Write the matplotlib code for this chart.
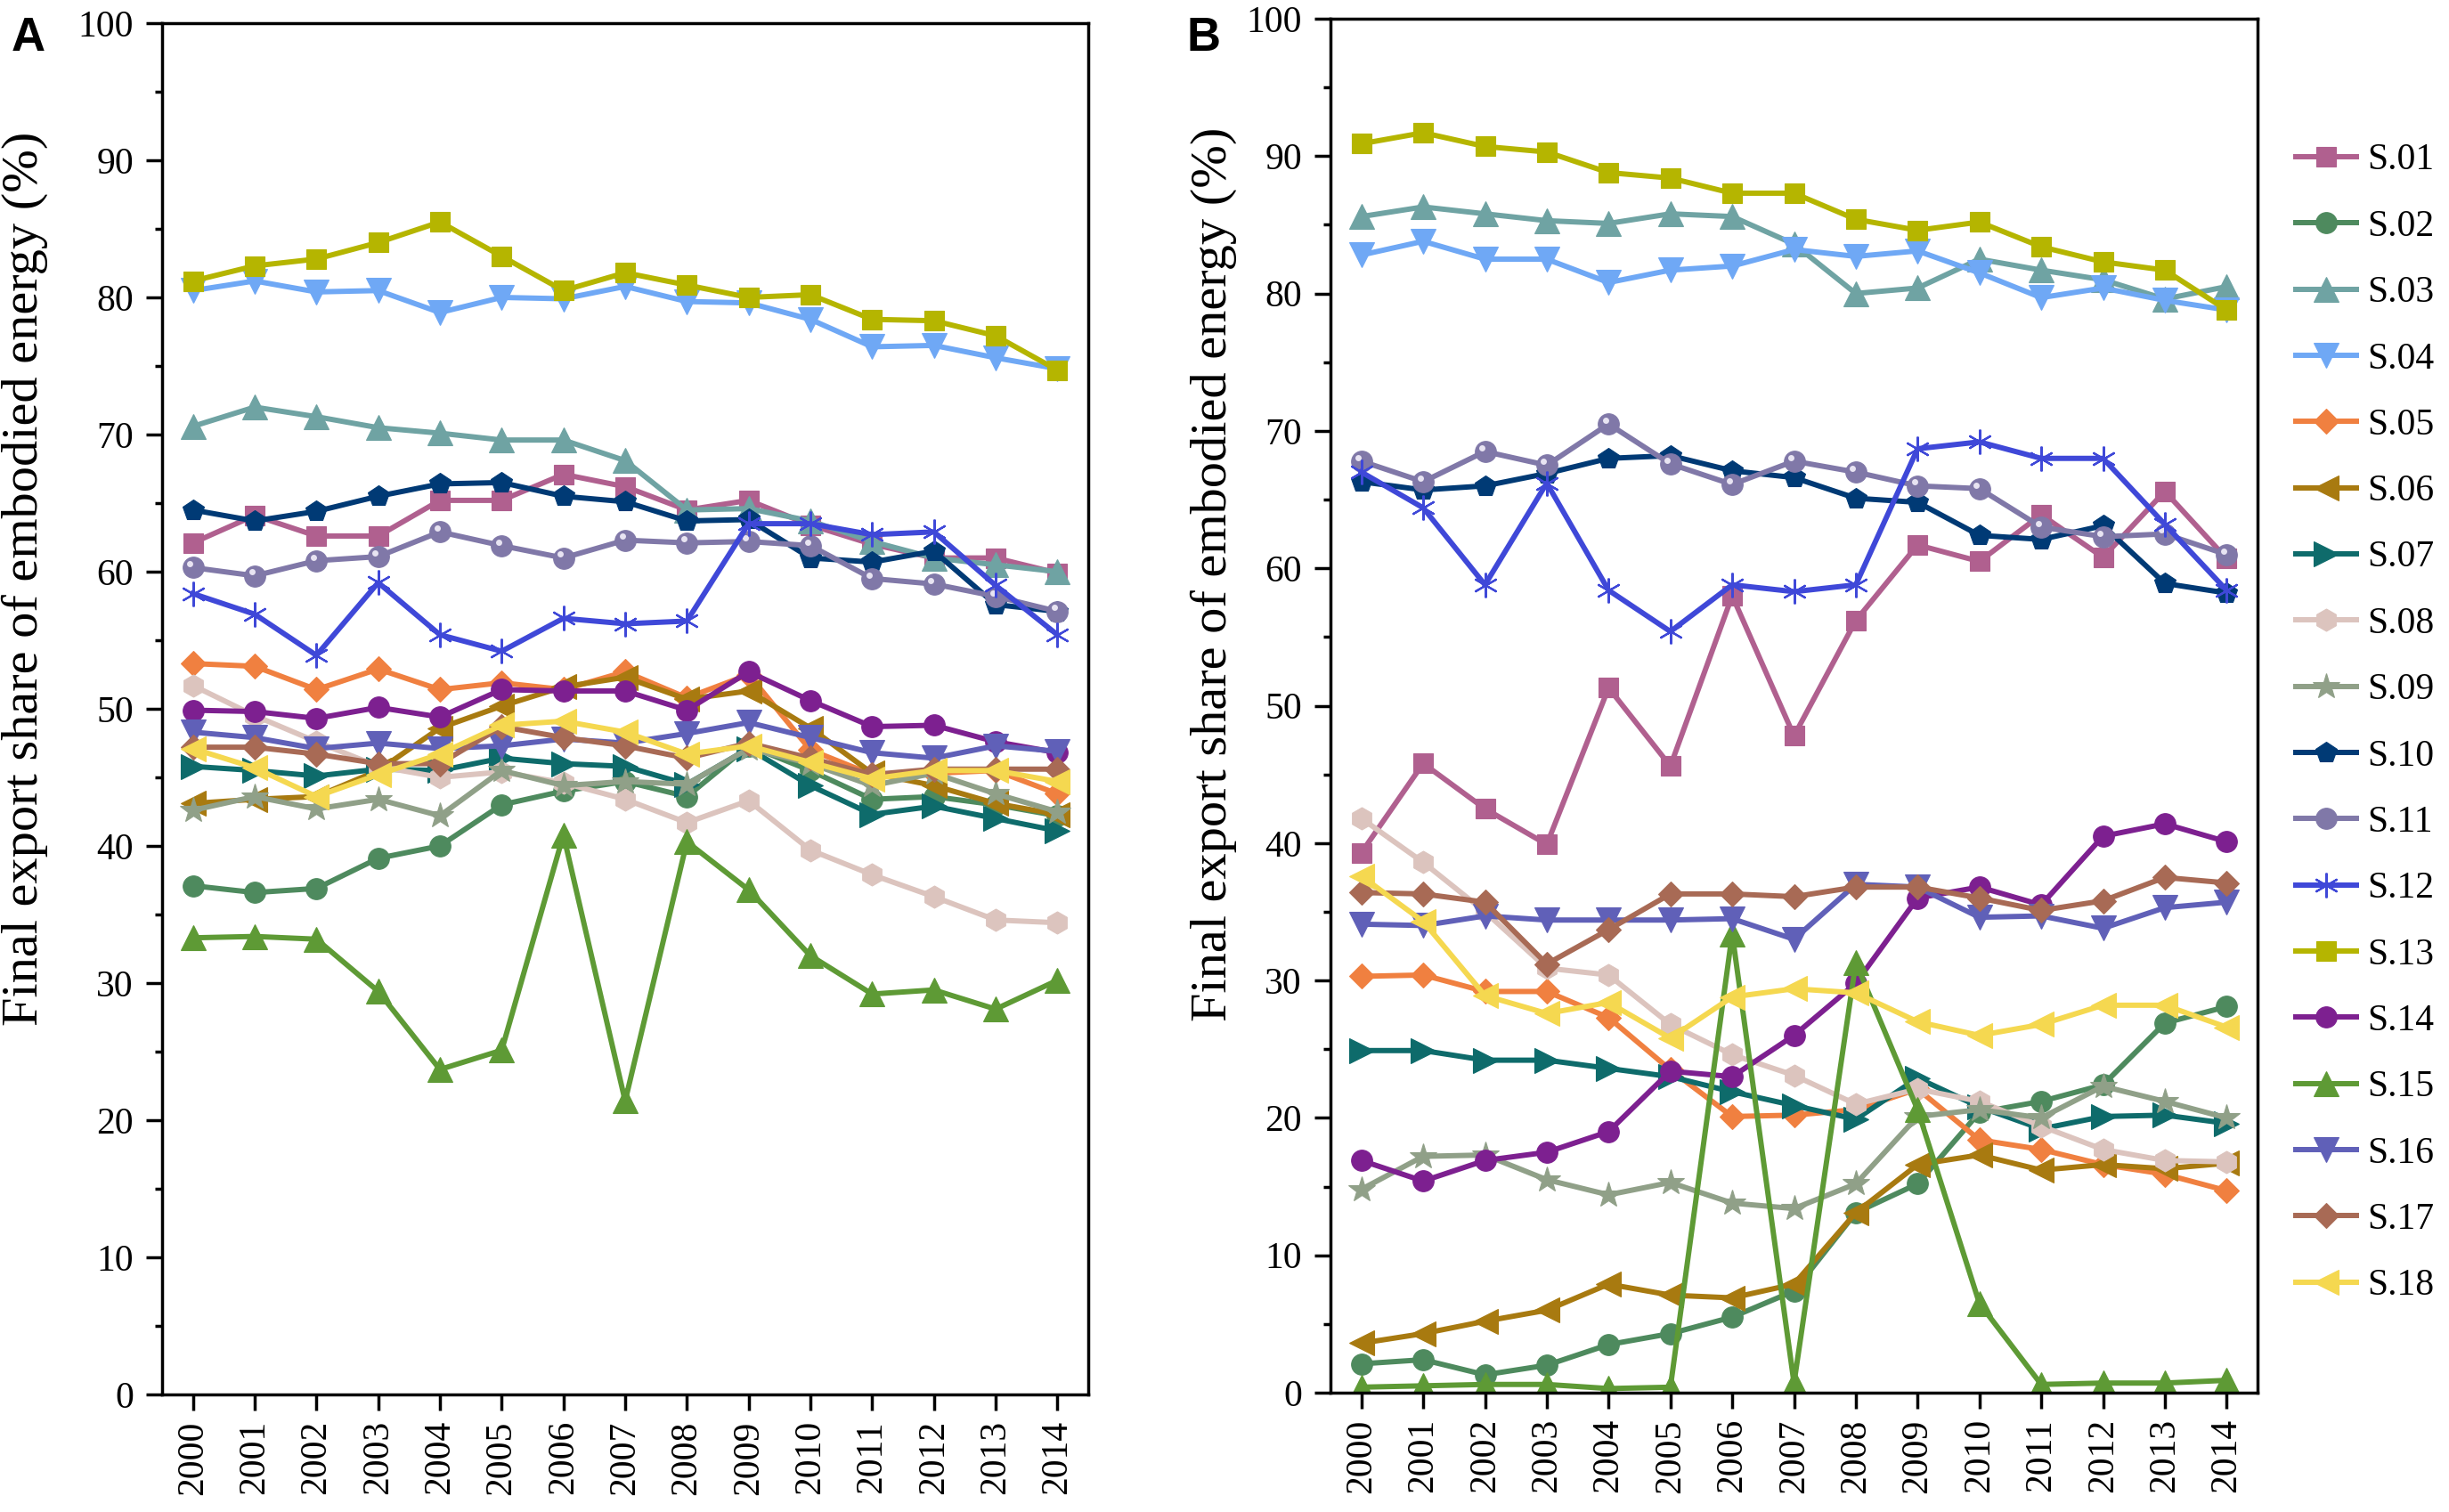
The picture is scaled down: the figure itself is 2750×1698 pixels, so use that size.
import matplotlib
matplotlib.use("Agg")
import matplotlib.pyplot as plt
import matplotlib.transforms as mtransforms

plt.rcParams['font.family'] = ['Liberation Serif', 'DejaVu Serif']

years = list(range(2000, 2015))
labels = ["S.%02d" % i for i in range(1, 19)]

# ---- Panel A values (%) ----
A_S01 = [62.1, 64.1, 62.6, 62.6, 65.2, 65.2, 67.1, 66.2, 64.5, 65.2, 63.4, 62.0, 61.0, 61.0, 59.9]
A_S02 = [37.1, 36.6, 36.9, 39.1, 40.0, 43.0, 44.0, 44.7, 43.6, 47.3, 45.5, 43.4, 43.6, 43.0, 42.2]
A_S03 = [70.6, 72.0, 71.3, 70.5, 70.1, 69.6, 69.6, 68.1, 64.5, 64.6, 63.7, 62.2, 61.0, 60.5, 60.0]
A_S04 = [80.5, 81.2, 80.4, 80.5, 78.9, 80.0, 79.9, 80.8, 79.7, 79.6, 78.4, 76.4, 76.5, 75.6, 74.8]
A_S05 = [53.3, 53.1, 51.4, 52.9, 51.4, 51.9, 51.4, 52.7, 50.8, 52.5, 47.0, 45.2, 45.3, 45.5, 43.8]
A_S06 = [43.1, 43.4, 43.6, 45.5, 48.6, 50.2, 51.6, 52.3, 50.7, 51.3, 48.6, 45.3, 44.4, 43.1, 42.3]
A_S07 = [45.8, 45.5, 45.1, 45.6, 45.5, 46.4, 46.0, 45.8, 44.5, 47.1, 44.4, 42.3, 42.9, 42.0, 41.1]
A_S08 = [51.7, 49.5, 47.6, 45.8, 45.0, 45.4, 44.6, 43.4, 41.7, 43.3, 39.7, 37.9, 36.3, 34.6, 34.4]
A_S09 = [42.6, 43.6, 42.7, 43.4, 42.2, 45.5, 44.4, 44.7, 44.5, 47.1, 46.0, 44.4, 45.3, 43.8, 42.5]
A_S10 = [64.5, 63.7, 64.4, 65.5, 66.4, 66.5, 65.5, 65.1, 63.7, 63.8, 61.0, 60.7, 61.5, 57.6, 57.1]
A_S11 = [60.3, 59.7, 60.8, 61.1, 62.9, 61.9, 61.0, 62.3, 62.1, 62.2, 61.9, 59.5, 59.1, 58.2, 57.1]
A_S12 = [58.4, 56.9, 53.9, 59.2, 55.4, 54.2, 56.6, 56.2, 56.4, 63.5, 63.5, 62.7, 62.9, 59.0, 55.4]
A_S13 = [81.2, 82.3, 82.8, 84.0, 85.5, 83.0, 80.5, 81.8, 80.9, 80.0, 80.2, 78.4, 78.3, 77.2, 74.7]
A_S14 = [49.9, 49.8, 49.3, 50.1, 49.4, 51.4, 51.3, 51.3, 49.9, 52.7, 50.6, 48.7, 48.8, 47.6, 46.8]
A_S15 = [33.3, 33.4, 33.2, 29.4, 23.7, 25.1, 40.8, 21.4, 40.3, 36.8, 32.0, 29.2, 29.5, 28.1, 30.2]
A_S16 = [48.3, 47.9, 47.1, 47.5, 47.1, 47.3, 47.8, 47.5, 48.2, 49.0, 47.9, 46.8, 46.4, 47.3, 46.9]
A_S17 = [47.2, 47.2, 46.7, 46.0, 46.0, 48.7, 47.9, 47.3, 46.4, 47.5, 46.4, 45.2, 45.6, 45.6, 45.6]
A_S18 = [47.1, 45.7, 43.6, 45.2, 46.7, 48.8, 49.1, 48.3, 46.7, 47.3, 46.1, 44.9, 45.5, 45.5, 44.7]

# ---- Panel B values (%) ----
B_S01 = [39.3, 45.8, 42.5, 39.9, 51.3, 45.6, 58.0, 47.8, 56.2, 61.7, 60.5, 63.9, 60.8, 65.6, 60.7]
B_S02 = [2.1, 2.4, 1.3, 2.0, 3.5, 4.3, 5.5, 7.4, 13.1, 15.2, 20.4, 21.2, 22.4, 26.9, 28.1]
B_S03 = [85.6, 86.3, 85.8, 85.3, 85.1, 85.8, 85.6, 83.6, 80.0, 80.4, 82.5, 81.7, 81.0, 79.6, 80.5]
B_S04 = [82.8, 83.8, 82.5, 82.5, 80.8, 81.7, 82.0, 83.2, 82.7, 83.1, 81.5, 79.7, 80.4, 79.5, 78.8]
B_S05 = [30.3, 30.4, 29.2, 29.2, 27.3, 23.5, 20.1, 20.2, 20.6, 22.1, 18.4, 17.7, 16.6, 15.9, 14.7]
B_S06 = [3.6, 4.3, 5.2, 6.0, 7.9, 7.1, 6.9, 7.9, 13.1, 16.6, 17.3, 16.2, 16.6, 16.3, 16.7]
B_S07 = [24.9, 24.9, 24.2, 24.2, 23.6, 23.0, 21.9, 20.9, 19.9, 22.9, 20.8, 19.2, 20.1, 20.2, 19.6]
B_S08 = [41.8, 38.6, 35.0, 30.9, 30.4, 26.8, 24.6, 23.1, 21.0, 22.1, 21.2, 19.4, 17.7, 16.9, 16.8]
B_S09 = [14.8, 17.2, 17.3, 15.5, 14.4, 15.3, 13.8, 13.4, 15.2, 20.1, 20.6, 20.0, 22.3, 21.2, 20.0]
B_S10 = [66.3, 65.7, 66.0, 66.9, 68.0, 68.2, 67.1, 66.6, 65.1, 64.8, 62.4, 62.1, 63.1, 58.9, 58.2]
B_S11 = [67.8, 66.3, 68.5, 67.5, 70.5, 67.6, 66.1, 67.8, 67.0, 66.0, 65.8, 63.0, 62.3, 62.5, 61.0]
B_S12 = [67.0, 64.4, 58.8, 66.2, 58.4, 55.4, 58.8, 58.3, 58.8, 68.7, 69.2, 68.0, 68.0, 63.2, 58.4]
B_S13 = [90.9, 91.7, 90.7, 90.3, 88.8, 88.4, 87.3, 87.3, 85.4, 84.6, 85.2, 83.4, 82.3, 81.7, 78.8]
B_S14 = [16.9, 15.4, 16.9, 17.5, 19.0, 23.4, 23.0, 26.0, 29.8, 36.0, 36.8, 35.5, 40.5, 41.4, 40.1]
B_S15 = [0.4, 0.5, 0.6, 0.6, 0.3, 0.4, 33.4, 0.7, 31.3, 20.6, 6.5, 0.6, 0.7, 0.7, 0.9]
B_S16 = [34.1, 34.0, 34.7, 34.4, 34.4, 34.4, 34.5, 33.0, 37.0, 36.8, 34.6, 34.7, 33.8, 35.3, 35.7]
B_S17 = [36.4, 36.3, 35.7, 31.2, 33.7, 36.3, 36.3, 36.1, 36.8, 36.8, 36.0, 35.1, 35.8, 37.5, 37.1]
B_S18 = [37.6, 34.3, 28.9, 27.6, 28.4, 25.8, 28.8, 29.4, 29.1, 27.0, 26.0, 26.8, 28.2, 28.2, 26.6]

panel_A = [A_S01, A_S02, A_S03, A_S04, A_S05, A_S06, A_S07, A_S08, A_S09,
           A_S10, A_S11, A_S12, A_S13, A_S14, A_S15, A_S16, A_S17, A_S18]
panel_B = [B_S01, B_S02, B_S03, B_S04, B_S05, B_S06, B_S07, B_S08, B_S09,
           B_S10, B_S11, B_S12, B_S13, B_S14, B_S15, B_S16, B_S17, B_S18]

colors = ['#B0608F', '#4E8A5E', '#6FA3A3', '#6FA8F5', '#F08040', '#A87A10',
          '#0E6B6B', '#DCC4BE', '#90A088', '#003A75', '#8078A8', '#3F48D8',
          '#B5B500', '#7D2090', '#5E9A35', '#6060B8', '#A86A55', '#F5D850']
markers = ['s', 'o', '^', 'v', 'D', '<', '>', 'h', '*', 'p', 'o', (6, 2, 0),
           's', 'o', '^', 'v', 'D', '<']
msizes = [16, 17, 20, 20, 14.5, 20, 20, 18, 22, 18, 17, 20, 16, 17, 20, 20, 14.5, 20]

W, H = 2750, 1698
fig = plt.figure(figsize=(W / 100, H / 100), dpi=100)

def ax_rect(l, t, r, b):
    return [l / W, 1 - b / H, (r - l) / W, (b - t) / H]

axA = fig.add_axes(ax_rect(182, 26, 1222, 1566))
axB = fig.add_axes(ax_rect(1494, 21, 2535, 1564))

fs = 30
handles = []
for ax, data in ((axA, panel_A), (axB, panel_B)):
    for i, vals in enumerate(data):
        mk = markers[i]
        is_ast = (mk == (6, 2, 0))
        ln, = ax.plot(years, vals, color=colors[i], lw=4.3, marker=mk,
                      ms=msizes[i], mec=colors[i],
                      mew=1.6 if is_ast else 0.8, label=labels[i])
        if i == 10:
            off = mtransforms.offset_copy(ax.transData, fig=fig, x=-2.5, y=3, units='points')
            ax.plot(years, vals, linestyle='none', marker='o', ms=5,
                    color='#E8E4F2', mec='none', transform=off)
        if ax is axB:
            handles.append(ln)

    ax.set_xlim(1999.5, 2014.5)
    ax.set_ylim(0, 100)
    ax.set_xticks(years)
    ax.set_xticklabels([str(y) for y in years], rotation=90, fontsize=fs)
    ax.set_yticks(range(0, 101, 10))
    ax.set_yticks(range(5, 100, 10), minor=True)
    ax.tick_params(axis='y', which='major', direction='out', length=13, width=2.5,
                   labelsize=fs, pad=10)
    ax.tick_params(axis='y', which='minor', direction='out', length=6, width=2.5)
    ax.tick_params(axis='x', which='major', direction='out', length=13, width=2.5,
                   labelsize=fs, pad=8)
    for s in ax.spines.values():
        s.set_linewidth(2.5)
    ax.set_ylabel("Final export share of embodied energy (%)", fontsize=42)

axA.yaxis.set_label_coords(-0.123, 0.595)
axB.yaxis.set_label_coords(-0.101, 0.596)

fig.text(13 / W, 1 - 57 / H, "A", fontsize=38, fontweight='bold',
         family=['Liberation Sans', 'DejaVu Sans'], va='baseline', ha='left')
fig.text(1332 / W, 1 - 57 / H, "B", fontsize=38, fontweight='bold',
         family=['Liberation Sans', 'DejaVu Sans'], va='baseline', ha='left')

fig.legend(handles=handles, loc='upper left', bbox_to_anchor=(2578 / W, 1 - 161 / H),
           frameon=False, fontsize=fs, handlelength=1.63, handletextpad=0.3,
           labelspacing=0.86, borderpad=0, borderaxespad=0)

fig.savefig("out.png", dpi=100)
